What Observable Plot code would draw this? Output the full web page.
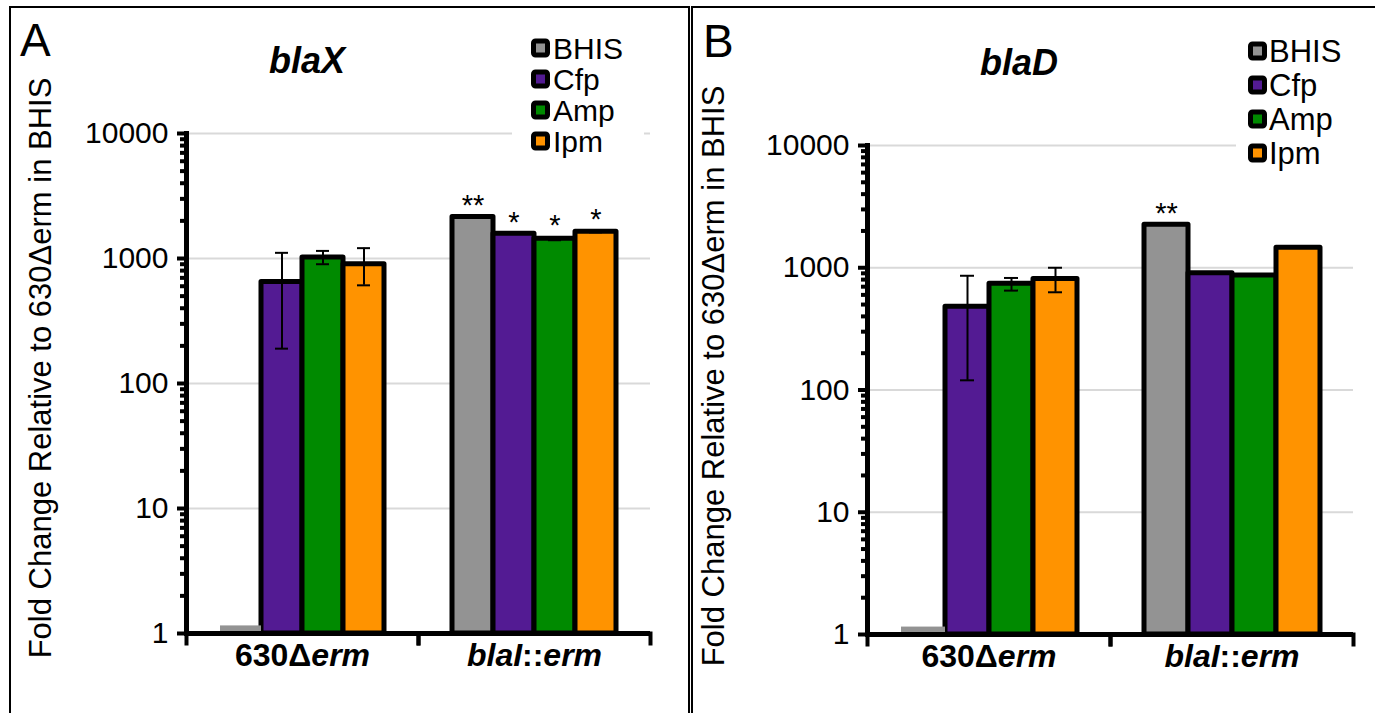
<!DOCTYPE html>
<html><head><meta charset="utf-8">
<script src="https://cdn.jsdelivr.net/npm/d3@7"></script>
<script src="https://cdn.jsdelivr.net/npm/@observablehq/plot@0.6"></script>
<style>
body{margin:0;background:#fff;font-family:"Liberation Sans",Arial,sans-serif;}
#root{position:relative;width:1375px;height:713px;overflow:hidden;background:#fff;}
.panel{position:absolute;border:2px solid #000;box-sizing:border-box;}
#root svg{position:absolute;top:0;}
</style></head><body><div id="root"></div>
<script>
// ---------- data ----------
const conditions = ["BHIS", "Cfp", "Amp", "Ipm"];
const colors = ["#939393", "#531b93", "#008a00", "#ff9300"];
const strains = ["630Δerm", "blaI::erm"];
const strainParts = {
  "630Δerm": [["630Δ", false], ["erm", true]],
  "blaI::erm": [["blaI", true], ["::", false], ["erm", true]]
};
const yTicks = [1, 10, 100, 1000, 10000];
const minorTicks = [2,3,4,5,6,7,8,9,20,30,40,50,60,70,80,90,200,300,400,500,600,700,800,900,2000,3000,4000,5000,6000,7000,8000,9000];

// blaX (panel A)
const blaX_630 = [1.15, 650, 1020, 900];
const blaX_630_lo = [null, 190, 900, 610];
const blaX_630_hi = [null, 1110, 1150, 1210];
const blaX_blaI = [2150, 1580, 1440, 1640];
const blaX_blaI_lo = [null, null, 1400, 1620];
const blaX_blaI_hi = [null, null, 1480, 1670];
const blaX_blaI_sig = ["**", "*", "*", "*"];

// blaD (panel B)
const blaD_630 = [1.15, 480, 740, 810];
const blaD_630_lo = [null, 120, 650, 630];
const blaD_630_hi = [null, 860, 825, 1000];
const blaD_blaI = [2250, 900, 865, 1460];
const blaD_blaI_lo = [null, null, null, null];
const blaD_blaI_hi = [null, null, null, null];
const blaD_blaI_sig = ["**", "", "", ""];

const yTitle = "Fold Change Relative to 630Δerm in BHIS";

function rowsFor(v630, lo630, hi630, vI, loI, hiI, sigI) {
  const rows = [];
  conditions.forEach((c, i) => rows.push({strain: strains[0], cond: c, value: v630[i], lo: lo630[i], hi: hi630[i], sig: ""}));
  conditions.forEach((c, i) => rows.push({strain: strains[1], cond: c, value: vI[i], lo: loI[i], hi: hiI[i], sig: sigI[i]}));
  return rows;
}

const H = 713;
const root = document.getElementById("root");

function panel(cfg, rows) {
  const frameH = H - cfg.mt - cfg.mb;
  const err = rows.filter(d => d.lo != null);
  const sig = rows.filter(d => d.sig);
  const chart = Plot.plot({
    width: cfg.width, height: H,
    marginTop: cfg.mt, marginBottom: cfg.mb, marginLeft: cfg.ml, marginRight: cfg.mr,
    style: {fontFamily: "'Liberation Sans', Arial, sans-serif", background: "transparent", overflow: "visible", color: "#000"},
    fx: {domain: strains, paddingInner: 0, paddingOuter: 0, label: null},
    x: {domain: conditions, paddingInner: 0, paddingOuter: cfg.po, axis: null},
    y: {type: "log", domain: [1, 10000], label: null},
    color: {domain: conditions, range: colors},
    marks: [
      Plot.gridY(yTicks.slice(1), {stroke: "#d9d9d9", strokeOpacity: 1, strokeWidth: 2}),
      Plot.barY(rows.filter(d => d.value >= 2), {fx: "strain", x: "cond", y1: 1, y2: "value", fill: "cond", stroke: "#000", strokeWidth: 5, strokeLinejoin: "round"}),
      Plot.barY(rows.filter(d => d.value < 2), {fx: "strain", x: "cond", y1: 1, y2: "value", fill: "cond"}),
      Plot.ruleX(err, {fx: "strain", x: "cond", y1: "lo", y2: "hi", stroke: "#000", strokeWidth: 2}),
      Plot.tickY(err, {fx: "strain", x: "cond", y: "lo", stroke: "#000", strokeWidth: 2, insetLeft: cfg.cap, insetRight: cfg.cap}),
      Plot.tickY(err, {fx: "strain", x: "cond", y: "hi", stroke: "#000", strokeWidth: 2, insetLeft: cfg.cap, insetRight: cfg.cap}),
      Plot.text(sig, {fx: "strain", x: "cond", y: d => Math.max(d.value, d.hi ?? 0), text: "sig", fontSize: 29, lineAnchor: "bottom", dy: -2, fill: "#000"}),
      Plot.ruleY([1], {stroke: "#000", strokeWidth: 5}),
      Plot.frame({anchor: "left", stroke: "#000", strokeWidth: 5, facet: "super"}),
      Plot.frame({anchor: "left", stroke: "#000", strokeWidth: 4, insetTop: frameH, insetBottom: -10}),
      Plot.frame({anchor: "right", stroke: "#000", strokeWidth: 4, insetTop: frameH, insetBottom: -10}),
      Plot.axisY(minorTicks, {tickSize: 6, strokeWidth: 4, tickFormat: () => "", label: null}),
      Plot.axisY(yTicks, {tickSize: 9, tickPadding: 9, strokeWidth: 4, fontSize: 30, tickFormat: d => String(d), label: null}),
      Plot.axisFx({anchor: "bottom", tickSize: 0, tickPadding: 10, fontSize: 32, fontWeight: "bold", label: null})
    ]
  });
  chart.style.left = cfg.left + "px";
  root.appendChild(chart);
  // rich text (italic parts) for strain labels
  chart.querySelectorAll('[aria-label="fx-axis tick label"] text').forEach(t => {
    const key = t.textContent;
    const parts = strainParts[key];
    if (!parts) return;
    t.textContent = "";
    parts.forEach(([s, it]) => {
      const ts = document.createElementNS("http://www.w3.org/2000/svg", "tspan");
      ts.textContent = s;
      if (it) ts.setAttribute("font-style", "italic");
      t.appendChild(ts);
    });
  });
}

// panel borders
[[9, 6, 681], [691, 6, 700]].forEach(([l, t, w]) => {
  const d = document.createElement("div");
  d.className = "panel";
  Object.assign(d.style, {left: l + "px", top: t + "px", width: w + "px", height: "730px"});
  root.appendChild(d);
});

panel({left: 0, width: 690, mt: 133, mb: 80, ml: 185, mr: 40, po: 0.8, cap: 14},
  rowsFor(blaX_630, blaX_630_lo, blaX_630_hi, blaX_blaI, blaX_blaI_lo, blaX_blaI_hi, blaX_blaI_sig));
panel({left: 690, width: 685, mt: 145, mb: 79, ml: 176, mr: 22, po: 0.74, cap: 15},
  rowsFor(blaD_630, blaD_630_lo, blaD_630_hi, blaD_blaI, blaD_blaI_lo, blaD_blaI_hi, blaD_blaI_sig));

// overlay: panel letters, gene titles, legends, y titles
const ov = d3.select(root).append("svg").attr("width", 1375).attr("height", H)
  .style("left", "0px").style("font-family", "'Liberation Sans', Arial, sans-serif");
const overlays = [
  {letter: "A", lx: 20, ly: 56, gene: "blaX", gx: 307, gy: 73, legX: 531, legTx: 553, legFs: 30, legY: [48, 79, 110, 141], bg: [512, 26, 132, 134], tx: 40, ty: 368},
  {letter: "B", lx: 703, ly: 57, gene: "blaD", gx: 1019, gy: 75, legX: 1248, legTx: 1269, legFs: 31, legY: [51, 85, 119, 153], bg: [1236, 28, 118, 144], tx: 713, ty: 376}
];
overlays.forEach(o => {
  ov.append("rect").attr("x", o.bg[0]).attr("y", o.bg[1]).attr("width", o.bg[2]).attr("height", o.bg[3]).attr("fill", "#fff");
  ov.append("text").attr("x", o.lx).attr("y", o.ly).attr("font-size", 46).text(o.letter);
  ov.append("text").attr("x", o.gx).attr("y", o.gy).attr("font-size", 36).attr("font-weight", "bold").attr("font-style", "italic").attr("text-anchor", "middle").text(o.gene);
  conditions.forEach((c, i) => {
    const cy = o.legY[i];
    ov.append("rect").attr("x", o.legX + 2.5).attr("y", cy - 7).attr("width", 14).attr("height", 14).attr("rx", 2)
      .attr("fill", colors[i]).attr("stroke", "#000").attr("stroke-width", 5);
    ov.append("text").attr("x", o.legTx).attr("y", cy).attr("dy", "0.36em").attr("font-size", o.legFs).text(c);
  });
  ov.append("text").attr("transform", `translate(${o.tx},${o.ty}) rotate(-90)`).attr("text-anchor", "middle")
    .attr("dy", "0.36em").attr("font-size", 31).text(yTitle);
});
</script></body></html>
